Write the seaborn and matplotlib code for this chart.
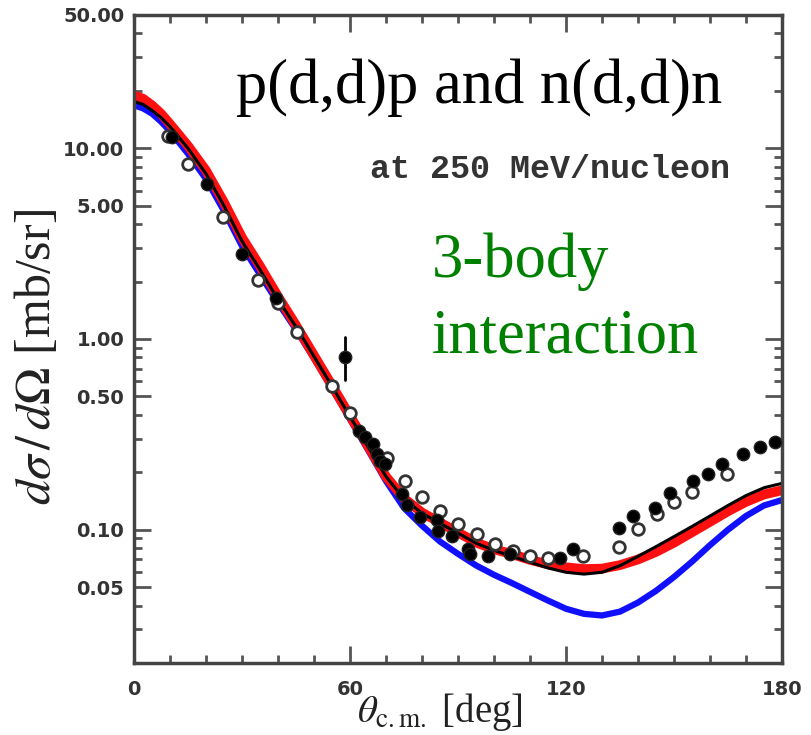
import numpy as np
import pandas as pd
import matplotlib
matplotlib.use("Agg")
import matplotlib.pyplot as plt
import seaborn as sns
from matplotlib.ticker import FixedLocator, NullFormatter, LogLocator

# theory curves (deg, mb/sr)
theta_curve = [0, 2.5, 5, 7.5, 10, 15, 20, 25, 30, 35, 40, 45, 50, 55, 60, 65, 70, 75, 80,
               85, 90, 95, 100, 105, 110, 115, 120, 125, 130, 135, 140, 145, 150, 155, 160,
               165, 170, 175, 180]
red_curve = [18.9, 18.2, 16.8, 15.2, 13.4, 10.3, 7.64, 5.2, 3.4, 2.41, 1.67, 1.18, 0.82,
             0.57, 0.395, 0.275, 0.19, 0.146, 0.123, 0.109, 0.0968, 0.0857, 0.079, 0.0745,
             0.0695, 0.0658, 0.0635, 0.0622, 0.0625, 0.0652, 0.0698, 0.0765, 0.0855, 0.097,
             0.110, 0.125, 0.140, 0.153, 0.161]
black_curve = [17.6, 17.0, 15.8, 14.5, 13.0, 10.0, 7.35, 4.99, 3.26, 2.31, 1.61, 1.16, 0.81,
               0.565, 0.392, 0.273, 0.19, 0.145, 0.122, 0.108, 0.096, 0.085, 0.078, 0.0725,
               0.0675, 0.063, 0.0598, 0.0585, 0.0598, 0.0648, 0.0725, 0.0815, 0.092, 0.104,
               0.118, 0.134, 0.151, 0.166, 0.175]
blue_curve = [16.8, 16.2, 15.2, 13.8, 12.3, 9.35, 6.9, 4.69, 3.07, 2.18, 1.55, 1.12, 0.79,
              0.55, 0.38, 0.262, 0.18, 0.13, 0.105, 0.0867, 0.0747, 0.065, 0.058, 0.0525,
              0.0472, 0.0425, 0.0385, 0.0362, 0.0355, 0.0372, 0.0415, 0.0478, 0.0565, 0.068,
              0.083, 0.100, 0.118, 0.134, 0.143]

# filled circles (p(d,d)p data)
theta_filled = [10.5, 20.2, 29.9, 39.4, 58.6, 62.5, 64.2, 66.5, 67.5, 68.3, 69.7, 74.4, 75.7,
                79.4, 84.1, 84.5, 88.2, 92.9, 93.3, 98.4, 104.4, 118.3, 122.0, 134.8, 138.7,
                144.7, 148.9, 155.4, 159.4, 163.2, 169.3, 174.0, 178.0]
xs_filled = [11.4, 6.49, 2.78, 1.64, 0.807, 0.33, 0.305, 0.28, 0.25, 0.23, 0.221, 0.154,
             0.134, 0.116, 0.112, 0.0988, 0.093, 0.079, 0.0747, 0.0727, 0.0747, 0.071, 0.079,
             0.102, 0.1185, 0.130, 0.155, 0.180, 0.197, 0.222, 0.249, 0.272, 0.287]

# open circles (n(d,d)n data)
theta_open = [9.5, 15.1, 24.8, 34.5, 40.1, 45.2, 54.9, 60.0, 70.2, 75.3, 79.9, 85.0, 90.1,
              95.2, 100.3, 105.4, 110.0, 115.1, 124.8, 134.8, 140.1, 145.2, 150.0, 154.9,
              164.6]
xs_open = [11.6, 8.29, 4.34, 2.05, 1.54, 1.09, 0.565, 0.408, 0.239, 0.180, 0.148, 0.126,
           0.107, 0.0949, 0.084, 0.077, 0.073, 0.071, 0.073, 0.0813, 0.101, 0.121, 0.139,
           0.157, 0.196]

# the one point with a visible error bar
err_theta = 58.6
err_low, err_high = 0.61, 1.03

y_ticks = [0.05, 0.1, 0.5, 1, 5, 10, 50]
y_ticklabels = ["0.05", "0.10", "0.50", "1.00", "5.00", "10.00", "50.00"]
x_ticks = [0, 60, 120, 180]

sns.set_theme(style="ticks")
plt.rcParams["font.family"] = ["DejaVu Sans"]
plt.rcParams["mathtext.fontset"] = "stix"

W, H = 812, 735
fig = plt.figure(figsize=(W / 100, H / 100), dpi=100)
ax = fig.add_axes([134 / W, 1 - 663 / H, (782 - 134) / W, (663 - 15) / H])

curves = pd.DataFrame({"theta": theta_curve, "red": red_curve,
                       "black": black_curve, "blue": blue_curve})

sns.lineplot(data=curves, x="theta", y="blue", color="#1010ff", lw=4.5, ax=ax,
             solid_capstyle="butt", solid_joinstyle="round")
sns.lineplot(data=curves, x="theta", y="red", color="#ff1010", lw=7, ax=ax,
             solid_capstyle="butt", solid_joinstyle="round")
sns.lineplot(data=curves, x="theta", y="black", color="black", lw=2.2, ax=ax,
             solid_capstyle="butt", solid_joinstyle="round")

ax.plot([err_theta, err_theta], [err_low, err_high], color="black", lw=2, zorder=4)

sns.scatterplot(x=theta_open, y=xs_open, marker="o", s=70, facecolor="white",
                edgecolor="#333333", linewidth=2, ax=ax, zorder=5)
sns.scatterplot(x=theta_filled, y=xs_filled, marker="o", s=80, color="black",
                edgecolor="#222222", linewidth=1, ax=ax, zorder=6)

ax.set_yscale("log")
ax.set_xlim(0, 180)
ax.set_ylim(0.02, 50)
ax.set_xlabel("")
ax.set_ylabel("")

ax.yaxis.set_major_locator(FixedLocator(y_ticks))
ax.set_yticklabels(y_ticklabels)
ax.yaxis.set_minor_locator(LogLocator(base=10, subs=[2, 3, 4, 6, 7, 8, 9]))
ax.yaxis.set_minor_formatter(NullFormatter())
ax.set_xticks(x_ticks)
ax.set_xticks(np.arange(0, 181, 10), minor=True)

for sp in ax.spines.values():
    sp.set_linewidth(2.5)
    sp.set_color("#444444")
    sp.set_visible(True)

ax.tick_params(which="major", direction="in", length=12, width=2, color="#555555",
               top=True, right=True, labelsize=14, labelcolor="#333333", pad=7)
ax.tick_params(which="minor", direction="in", length=6, width=2, color="#555555",
               top=True, right=True)
ax.tick_params(axis="x", which="major", pad=12)
for lab in ax.get_xticklabels() + ax.get_yticklabels():
    lab.set_fontweight("bold")

serif = ["Liberation Serif", "DejaVu Serif"]
fig.text(236 / W, 1 - 103 / H, "p(d,d)p and n(d,d)n", family=serif, fontsize=45,
         color="black", va="baseline", ha="left")
fig.text(370 / W, 1 - 178 / H, "at 250 MeV/nucleon", family=["Liberation Mono"],
         fontsize=24, fontweight="bold", color="#333333", va="baseline", ha="left")
fig.text(432 / W, 1 - 277 / H, "3-body", family=serif, fontsize=45, color="#008000",
         va="baseline", ha="left")
fig.text(432 / W, 1 - 352 / H, "interaction", family=serif, fontsize=45, color="#008000",
         va="baseline", ha="left")

fig.text(38 / W, 1 - 357 / H, r"$d\sigma\,/\,d\Omega$ [mb/sr]", family=serif,
         fontsize=36, rotation=90, ha="center", va="center", color="#222222")
fig.text(440 / W, 1 - 712 / H, r"$\theta_{\rm c.m.}$ [deg]", family=serif,
         fontsize=28, ha="center", va="center", color="#222222")

fig.savefig("out.png", dpi=100)
